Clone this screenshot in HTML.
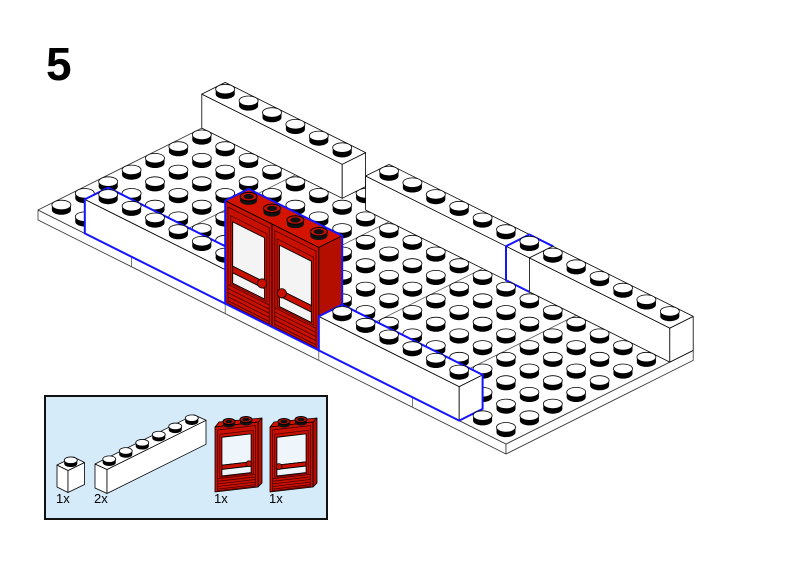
<!DOCTYPE html>
<html><head><meta charset="utf-8">
<style>
html,body{margin:0;padding:0;background:#fff;}
svg{display:block;}
</style></head>
<body>
<svg id="s" xmlns="http://www.w3.org/2000/svg" width="800" height="566" viewBox="0 0 800 566">
<rect x="0" y="0" width="800" height="566" fill="#fff"/>
<text x="46" y="80" font-family="Liberation Sans, sans-serif" font-weight="bold" font-size="46" fill="#000">5</text>
<rect x="45" y="396" width="282" height="123" fill="#d6ebf9" stroke="#111" stroke-width="2"/>
<g font-family="Liberation Sans, sans-serif" font-size="13" fill="#000">
<text x="56" y="503">1x</text>
<text x="94" y="503">2x</text>
<text x="214" y="503">1x</text>
<text x="269" y="503">1x</text>
</g>
<g id="g"></g>
</svg>
<script>
(function(){
const NS="http://www.w3.org/2000/svg";
const G=document.getElementById('g');
function el(tag,attrs,parent){const e=document.createElementNS(NS,tag);for(const k in attrs)e.setAttribute(k,attrs[k]);(parent||G).appendChild(e);return e;}
function pts(a){return a.map(p=>p[0].toFixed(2)+','+p[1].toFixed(2)).join(' ');}
function poly(a,fill,stroke,sw,parent){return el('polygon',{points:pts(a),fill:fill,stroke:stroke||'none','stroke-width':sw||0.8,'stroke-linejoin':'round'},parent);}
function line(a,b,stroke,sw){el('line',{x1:a[0],y1:a[1],x2:b[0],y2:b[1],stroke:stroke,'stroke-width':sw||0.8});}
function proj(o,U,V){return (u,v,h)=>[o[0]+U[0]*u+V[0]*v,o[1]+U[1]*u+V[1]*v-(h||0)];}

function stud(c,rx,ry,sh,col){
  const cx=c[0],cy=c[1];
  if(col==='red'){
    el('ellipse',{cx:cx,cy:cy,rx:rx,ry:ry,fill:'#111'});
    el('rect',{x:cx-rx,y:cy-sh,width:2*rx,height:sh,fill:'#111'});
    el('ellipse',{cx:cx,cy:cy-sh,rx:rx,ry:ry,fill:'#c81000',stroke:'#000','stroke-width':1});
    el('ellipse',{cx:cx,cy:cy-sh,rx:rx*0.6,ry:ry*0.6,fill:'#111'});
  } else {
    el('ellipse',{cx:cx,cy:cy,rx:rx,ry:ry,fill:'#000'});
    el('rect',{x:cx-rx,y:cy-sh,width:2*rx,height:sh,fill:'#000'});
    el('ellipse',{cx:cx,cy:cy-sh,rx:rx,ry:ry,fill:'#fff',stroke:'#000','stroke-width':0.8});
  }
}

function box(P,u0,u1,v0,v1,h0,h1,o){
  const top=[P(u0,v0,h1),P(u1,v0,h1),P(u1,v1,h1),P(u0,v1,h1)];
  const front=[P(u0,v0,h0),P(u1,v0,h0),P(u1,v0,h1),P(u0,v0,h1)];
  const right=[P(u1,v0,h0),P(u1,v1,h0),P(u1,v1,h1),P(u1,v0,h1)];
  poly(front,o.fill,'#000',0.8);
  poly(right,o.rfill||o.fill,'#000',0.8);
  poly(top,o.tfill||o.fill,'#000',0.8);
  if(o.after) o.after();
  if(o.blue){
    poly([P(u0,v0,h0),P(u1,v0,h0),P(u1,v1,h0),P(u1,v1,h1),P(u0,v1,h1),P(u0,v0,h1)],'none','#1414ff',2);
  }
  if(o.studs!==false){
    const s=o.st;
    for(let v=v1-0.5;v>v0;v-=1)for(let u=u0+0.5;u<u1;u+=1){stud(P(u,v,h1),s.rx,s.ry,s.sh,o.scol||'white');}
  }
}

function doorFace(ox,oy,ax,ay,H,knobLeft,glass){
  const g=el('g',{transform:`matrix(${ax},${ay},0,1,${ox},${oy})`});
  function r(x0,x1,y0,y1,fill,stroke,sw){el('polygon',{points:`${x0},${y0*H} ${x1},${y0*H} ${x1},${y1*H} ${x0},${y1*H}`,fill:fill,stroke:stroke,'stroke-width':sw||0.8,'vector-effect':'non-scaling-stroke'},g);}
  r(0.12,1.88,0.05,0.985,'#c81000','#4a0000',0.8);
  r(0.22,1.78,0.12,0.78,'#c81000','#4a0000',0.7);
  r(0.32,1.68,0.17,0.6,glass,'#000',0.9);
  r(0.32,1.68,0.6,0.665,'#c81000','#000',0.8);
  r(0.32,1.68,0.665,0.765,glass,'#000',0.9);
  for(const y of [0.8,0.84,0.88,0.92,0.96]){el('line',{x1:0.12,y1:y*H,x2:1.88,y2:y*H,stroke:'#4a0000','stroke-width':0.8,'vector-effect':'non-scaling-stroke'},g);}
  const kx=knobLeft?0.42:1.58, ky=0.625*H;
  el('circle',{cx:ox+ax*kx,cy:oy+ay*kx+ky,r:H*0.045,fill:'#c81000',stroke:'#000','stroke-width':0.8});
}

/* ---------- main model ---------- */
const P=proj([38,210],[23.4,11.7],[23.4,-11.7]);
const ST={rx:9.5,ry:4.8,sh:5};
poly([P(0,0,0),P(20,0,0),P(20,0,-10),P(0,0,-10)],'#fff','#333',0.8);
poly([P(20,0,0),P(20,8,0),P(20,8,-10),P(20,0,-10)],'#fff','#333',0.8);
poly([P(0,0,0),P(20,0,0),P(20,8,0),P(0,8,0)],'#fff','#333',0.8);
for(const u of [4,8,12,16]){line(P(u,0,0),P(u,0,-10),'#555',0.8);line(P(u,0,0),P(u,8,0),'#555',0.8);}
stud(P(6.5,7.5,0),ST.rx,ST.ry,ST.sh);
box(P,0,6,7,8,0,34,{fill:'#fff',st:ST});
box(P,7,13,7,8,0,34,{fill:'#fff',st:ST});
box(P,13,14,7,8,0,34,{fill:'#fff',st:ST,blue:true});
box(P,14,20,7,8,0,34,{fill:'#fff',st:ST});
for(let v=6;v>=1;v--)for(let u=0;u<20;u++)stud(P(u+0.5,v+0.5,0),ST.rx,ST.ry,ST.sh);
stud(P(0.5,0.5,0),ST.rx,ST.ry,ST.sh);stud(P(1.5,0.5,0),ST.rx,ST.ry,ST.sh);
box(P,2,8,0,1,0,34,{fill:'#fff',st:ST,blue:true});
box(P,8,12,0,1,0,103,{fill:'#c81000',rfill:'#b30e00',tfill:'#d41400',st:{rx:8.5,ry:4.3,sh:4},scol:'red',blue:true,
  after:function(){
    const t1=P(8,0,103),t2=P(10,0,103);
    doorFace(t1[0],t1[1],23.4,11.7,103,false,'#f4f4f4');
    doorFace(t2[0],t2[1],23.4,11.7,103,true,'#f4f4f4');
    line(P(10,0,0),P(10,0,103),'#000',1);
  }});
box(P,12,18,0,1,0,34,{fill:'#fff',st:ST,blue:true});
stud(P(18.5,0.5,0),ST.rx,ST.ry,ST.sh);stud(P(19.5,0.5,0),ST.rx,ST.ry,ST.sh);

/* ---------- parts box ---------- */
const SB={rx:6.5,ry:3.3,sh:3.5};
const P1=proj([57,487],[11,5.5],[16.5,-8]);
box(P1,0,1,0,1,0,22,{fill:'#fff',st:SB});
const P6=proj([95,488],[12,5.5],[16.5,-8.2]);
box(P6,0,1,0,6,0,24,{fill:'#fff',st:SB});

function boxDoor(x0,knobLeft){
  const y0=427, w=43, dy=-5, H=65;
  poly([[x0+w,y0+dy],[x0+w+4,y0+dy-4],[x0+w+4,y0+dy+H-4],[x0+w,y0+dy+H]],'#b30e00','#000',0.8);
  poly([[x0,y0],[x0+4,y0-5],[x0+w+4,y0+dy-4],[x0+w,y0+dy]],'#d41400','#000',0.8);
  poly([[x0,y0],[x0+w,y0+dy],[x0+w,y0+dy+H],[x0,y0+H]],'#c81000','#000',0.8);
  doorFace(x0,y0,w/2,dy/2,H,knobLeft,'#eef5fb');
  stud([x0+14,424.5],6,3,3,'red');
  stud([x0+31,422.5],6,3,3,'red');
}
boxDoor(215,false);
boxDoor(270,true);
})();
</script>
</body></html>
